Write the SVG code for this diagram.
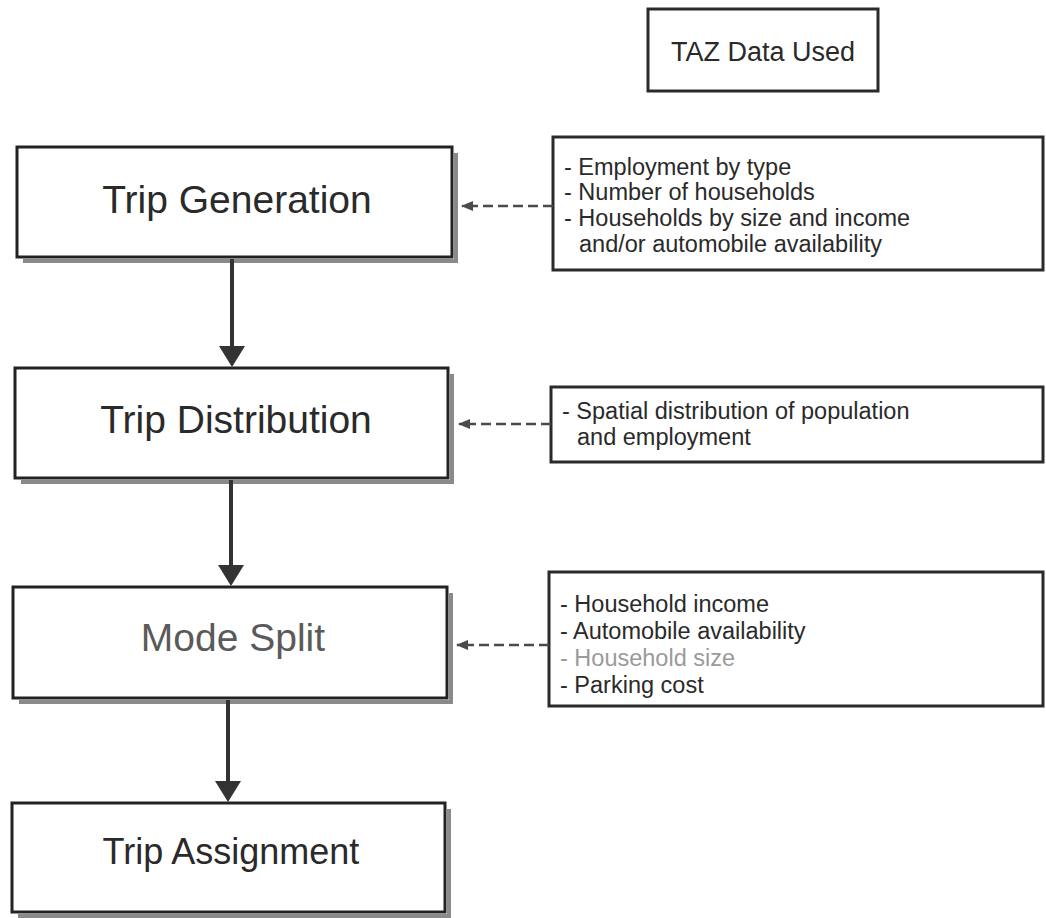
<svg xmlns="http://www.w3.org/2000/svg" width="1046" height="918" viewBox="0 0 1046 918">
  <defs>
    <style>
      .step { fill: #ffffff; stroke: #222222; stroke-width: 3; }
      .shadow { fill: none; stroke: #8a8a8a; stroke-width: 4; }
      .note { fill: #ffffff; stroke: #2a2a2a; stroke-width: 3; }
      text { font-family: 'Liberation Sans', Arimo, Arial, Helvetica, sans-serif; fill: #2a2a2a; }
      .title { font-size: 39px; text-anchor: middle; }
      .list { font-size: 23.5px; }
      .head { font-size: 27px; text-anchor: middle; }
      .flow { stroke: #333333; stroke-width: 4; fill: none; }
      .feed { stroke: #4a4a4a; stroke-width: 2.6; stroke-dasharray: 10 5; fill: none; }
    </style>
    <marker id="feedHead" viewBox="0 0 12 10" refX="11" refY="5" markerWidth="12" markerHeight="10" markerUnits="userSpaceOnUse" orient="auto">
      <path d="M0,0 L12,5 L0,10 Z" fill="#4a4a4a"/>
    </marker>
  </defs>

  <!-- column header -->
  <g id="taz-header">
    <rect class="note" x="648" y="9" width="230" height="82"/>
    <text class="head" x="763" y="61" font-family="Liberation Sans, Arial, sans-serif">TAZ Data Used</text>
  </g>

  <!-- model steps -->
  <g id="trip-generation">
    <path class="shadow" d="M456,153 V261 H23"/>
    <rect class="step" x="17" y="147" width="435" height="110"/>
    <text class="title" x="237" y="213" font-family="Liberation Sans, Arial, sans-serif">Trip Generation</text>
  </g>

  <g id="trip-distribution">
    <path class="shadow" d="M452,374 V482 H21"/>
    <rect class="step" x="15" y="368" width="433" height="110"/>
    <text class="title" x="236" y="433" font-family="Liberation Sans, Arial, sans-serif">Trip Distribution</text>
  </g>

  <g id="mode-split">
    <path class="shadow" d="M451,593 V702 H19"/>
    <rect class="step" x="13" y="587" width="434" height="111"/>
    <text class="title" x="233" y="651" font-family="Liberation Sans, Arial, sans-serif" style="fill:#5a5a5a">Mode Split</text>
  </g>

  <g id="trip-assignment">
    <path class="shadow" d="M449,809 V916 H18"/>
    <rect class="step" x="12" y="803" width="433" height="109"/>
    <text class="title" x="231" y="864" font-family="Liberation Sans, Arial, sans-serif" style="font-size:36px">Trip Assignment</text>
  </g>

  <!-- data inputs -->
  <g id="generation-data" font-family="Liberation Sans, Arial, sans-serif">
    <rect class="note" x="553" y="137" width="490" height="133"/>
    <text class="list" x="564" y="175">- Employment by type</text>
    <text class="list" x="564" y="200">- Number of households</text>
    <text class="list" x="564" y="226">- Households by size and income</text>
    <text class="list" x="579" y="252">and/or automobile availability</text>
  </g>

  <g id="distribution-data" font-family="Liberation Sans, Arial, sans-serif">
    <rect class="note" x="551" y="387" width="492" height="75"/>
    <text class="list" x="562" y="419">- Spatial distribution of population</text>
    <text class="list" x="577" y="445">and employment</text>
  </g>

  <g id="mode-data" font-family="Liberation Sans, Arial, sans-serif">
    <rect class="note" x="549" y="572" width="494" height="134"/>
    <text class="list" x="560" y="612">- Household income</text>
    <text class="list" x="560" y="639">- Automobile availability</text>
    <text class="list" x="560" y="666" style="fill:#9a9a9a">- Household size</text>
    <text class="list" x="560" y="693">- Parking cost</text>
  </g>

  <!-- connectors -->
  <g id="connectors">
    <line class="flow" x1="232" y1="259" x2="232" y2="348"/>
    <polygon points="219,346 245,346 232,367" fill="#333333"/>
    <line class="flow" x1="231" y1="480" x2="231" y2="567"/>
    <polygon points="218,565 244,565 231,586" fill="#333333"/>
    <line class="flow" x1="228" y1="700" x2="228" y2="783"/>
    <polygon points="215,781 241,781 228,802" fill="#333333"/>

    <line class="feed" x1="553" y1="206" x2="462" y2="206" marker-end="url(#feedHead)"/>
    <line class="feed" x1="551" y1="424" x2="459" y2="424" marker-end="url(#feedHead)"/>
    <line class="feed" x1="549" y1="645" x2="457" y2="645" marker-end="url(#feedHead)"/>
  </g>
</svg>
